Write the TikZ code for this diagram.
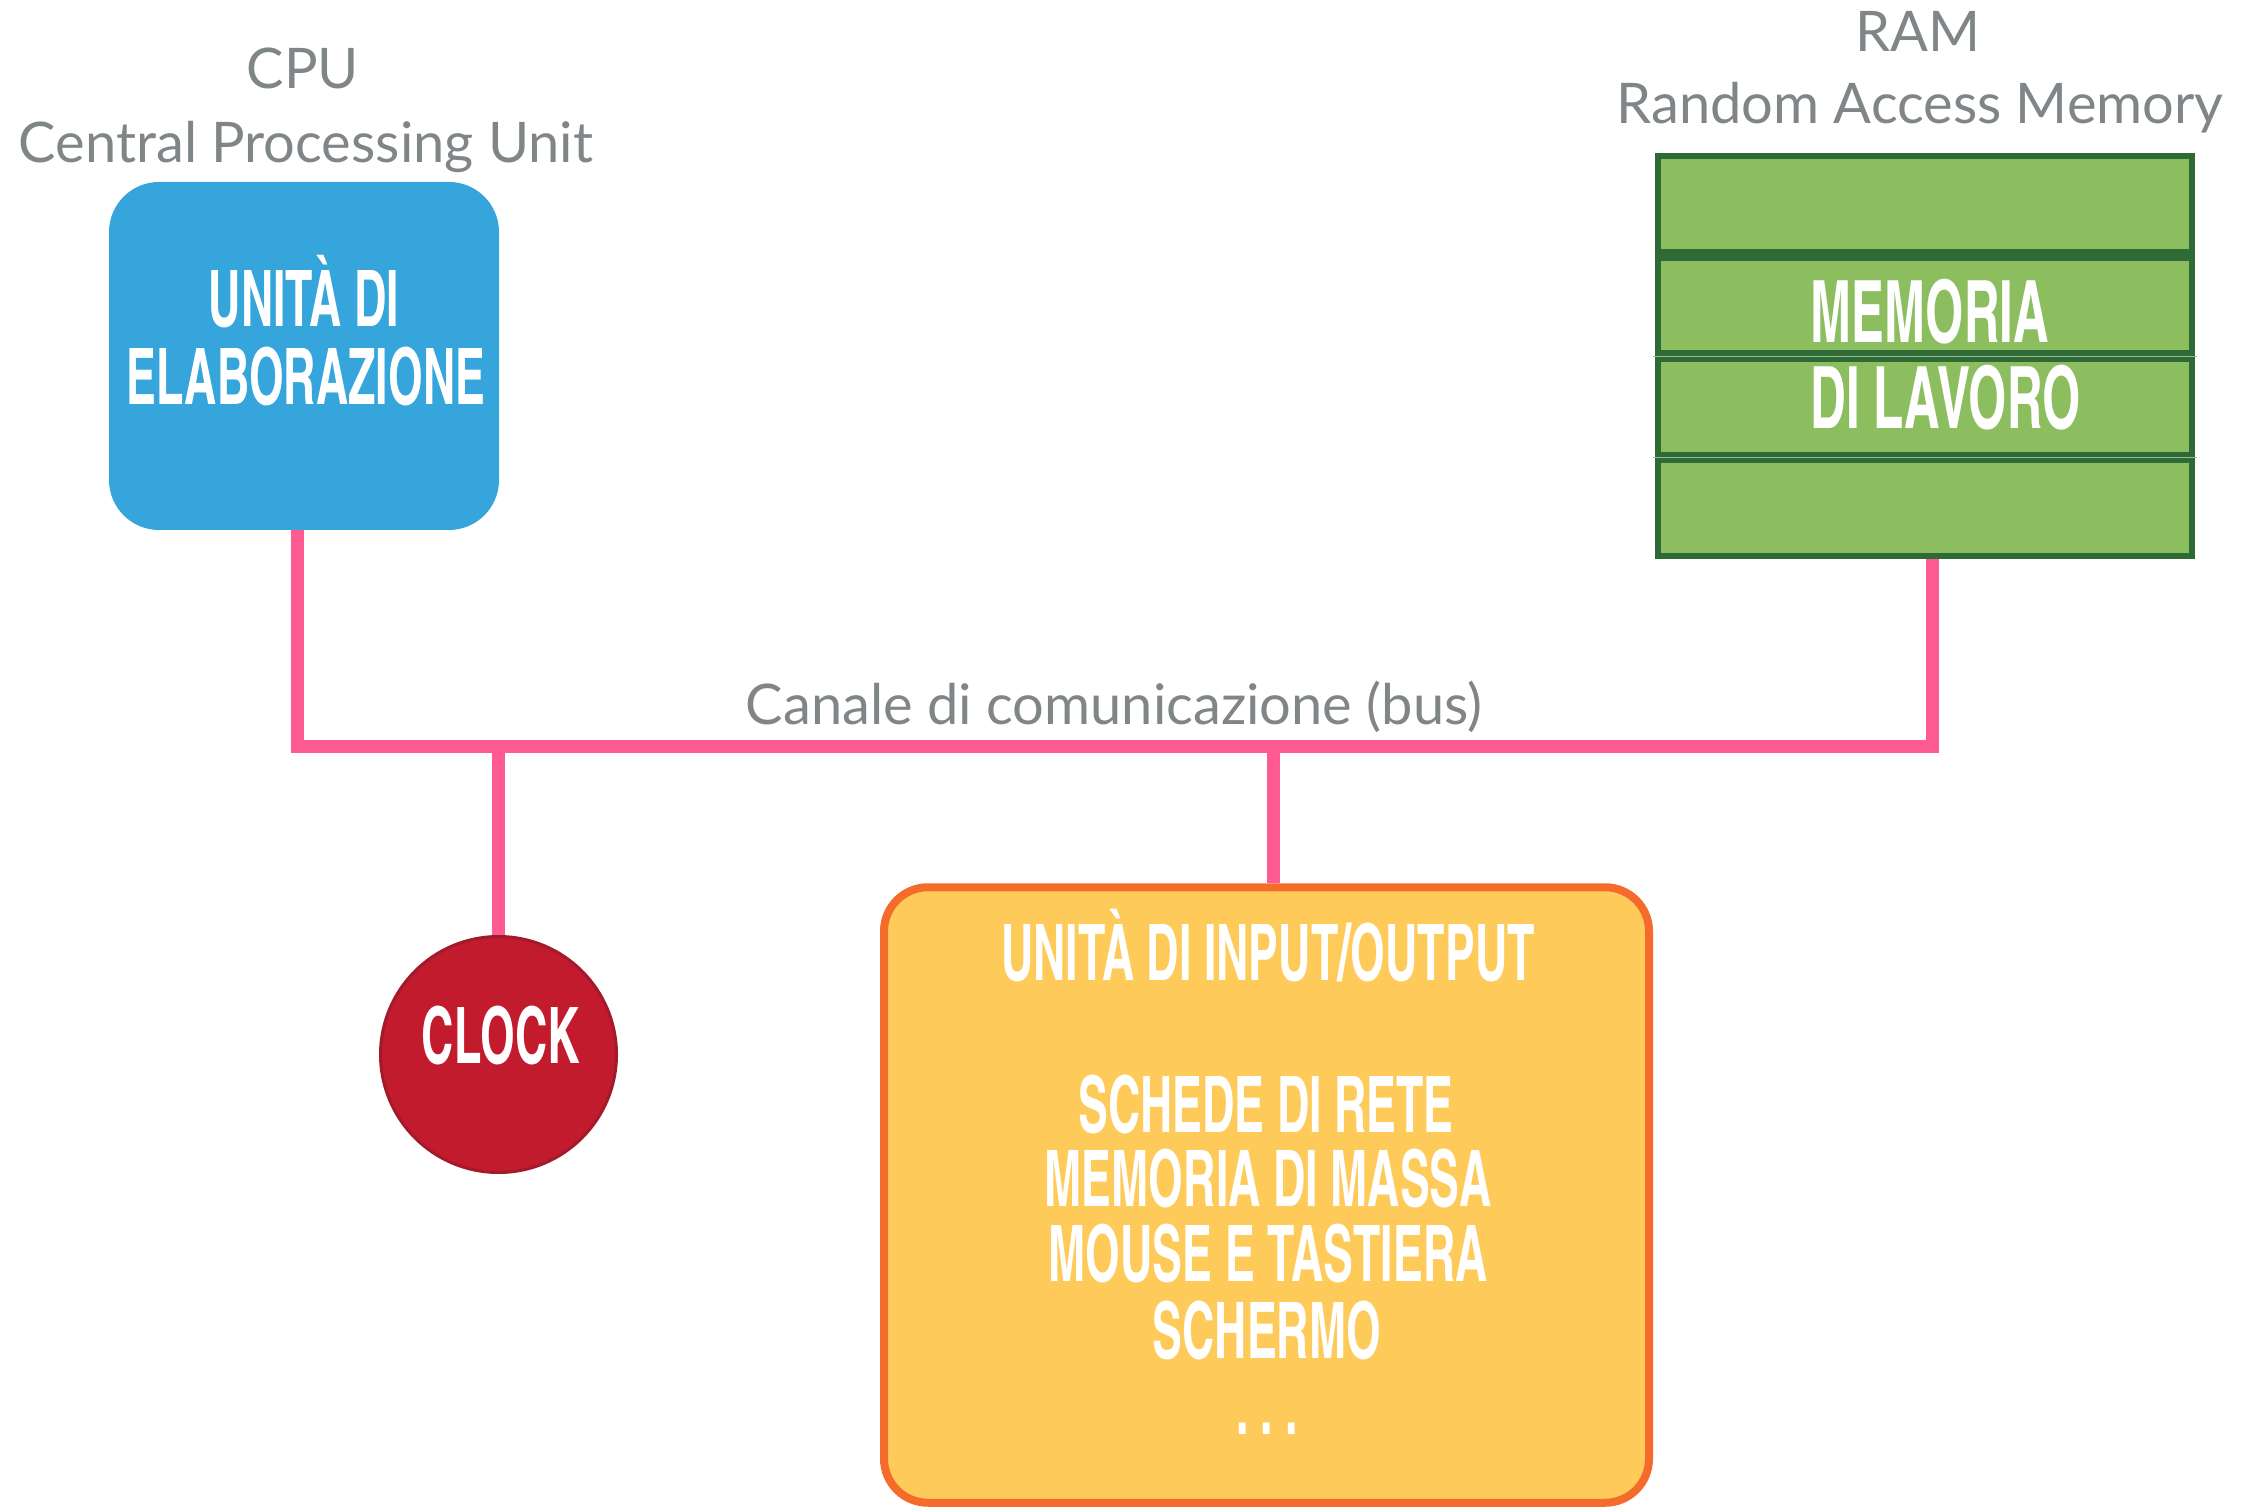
\documentclass[tikz,border=0pt]{standalone}
\usepackage{fontspec}
\setmainfont{Lato}
\newfontfamily\condfont{TeX Gyre Heros Cn}[FakeStretch=0.70]
\usetikzlibrary{backgrounds}

\definecolor{labelgray}{HTML}{808588}
\definecolor{buspink}{HTML}{FF5A92}
\definecolor{cpublue}{HTML}{35A5DB}
\definecolor{ramfill}{HTML}{8CBE5F}
\definecolor{ramedge}{HTML}{2E6A35}
\definecolor{ramseam}{HTML}{9DB896}
\definecolor{clockfill}{HTML}{C21B2E}
\definecolor{clockedge}{HTML}{A31A2B}
\definecolor{iofill}{HTML}{FECB5A}
\definecolor{ioedge}{HTML}{F46B2B}

\begin{document}
\begin{tikzpicture}[x=0.5pt,y=-0.5pt,
  caption/.style={text=labelgray, font=\fontsize{28}{30}\selectfont,
    inner sep=0pt, anchor=base},
  boxtext/.style={text=white, font=\condfont\bfseries\fontsize{39}{39}\selectfont,
    inner sep=0pt, anchor=base},
  bigtext/.style={boxtext, font=\condfont\bfseries\fontsize{43}{43}\selectfont},
  busline/.style={draw=buspink, line width=6.5pt},
  cpubox/.style={fill=cpublue, rounded corners=25pt, minimum width=195pt,
    minimum height=174pt, inner sep=0pt},
  ramrow/.style={fill=ramfill, draw=ramedge, line width=3pt,
    minimum width=267pt, minimum height=47.75pt, inner sep=0pt},
  seam/.style={draw=ramseam, line width=0.5pt},
  clockbox/.style={circle, fill=clockfill, draw=clockedge, line width=1.5pt,
    minimum size=118pt, inner sep=0pt},
  iobox/.style={fill=iofill, draw=ioedge, line width=4pt, rounded corners=22pt,
    minimum width=382.5pt, minimum height=307.75pt, inner sep=0pt},
]
\useasboundingbox (0,0) rectangle (2241,1507);

% captions
\node[caption] (cpu-name) at (303,89) {CPU};
\node[caption] (cpu-full) at (306,162.5) {Central Processing Unit};
\node[caption] (ram-name) at (1918,52) {RAM};
\node[caption] (ram-full) at (1920,124) {Random Access Memory};
\node[caption] (bus-name) at (1114,724.6) {Canale di comunicazione (bus)};

% processing unit
\node[cpubox] (cpu) at (304,356) {};
\node[boxtext] (cpu-t1) at (304,327) {UNITÀ DI};
\node[boxtext] (cpu-t2) at (306,405) {ELABORAZIONE};

% working memory, four stacked cells
\node[ramrow] (ram1) at (1925,204) {};
\node[ramrow] (ram2) at (1925,305.75) {};
\node[ramrow] (ram3) at (1925,407) {};
\node[ramrow] (ram4) at (1925,508.25) {};
% faint seams between the lower cells
\draw[seam] (1653,356.4) -- (2197,356.4);
\draw[seam] (1653,457.6) -- (2197,457.6);
\node[bigtext, anchor=base west] (ram-t1) at (1810,342.5) {MEMORIA};
\node[bigtext, anchor=base west] (ram-t2) at (1810,428.6) {DI LAVORO};

% clock
\node[clockbox] (clock) at (498.5,1054.5) {};
\node[boxtext] (clock-t) at (501,1063) {CLOCK};

% input/output unit
\node[iobox] (io) at (1266.5,1195) {};
\node[boxtext] (io-t1) at (1268,980.5) {UNITÀ DI INPUT/OUTPUT};
\node[boxtext] (io-t2) at (1266,1132) {SCHEDE DI RETE};
\node[boxtext] (io-t3) at (1268,1206.6) {MEMORIA DI MASSA};
\node[boxtext] (io-t4) at (1268,1281.7) {MOUSE E TASTIERA};
\node[boxtext] (io-t5) at (1267,1358.5) {SCHERMO};
\node[boxtext] (io-t6) at (1267,1434) {.\hspace{6pt}.\hspace{6pt}.};

% bus connections, kept behind the boxes
\coordinate (bus) at (0,746);
\begin{pgfonlayer}{background}
  \draw[busline] ([xshift=-3.25pt]cpu.south) |- ([xshift=3.5pt]ram4.south |- bus)
    -- ([xshift=3.5pt]ram4.south);
  \draw[busline] (clock.north) -- (clock.north |- bus);
  \draw[busline] ([xshift=3.5pt]io.north) -- ([xshift=3.5pt]io.north |- bus);
\end{pgfonlayer}
\end{tikzpicture}
\end{document}
